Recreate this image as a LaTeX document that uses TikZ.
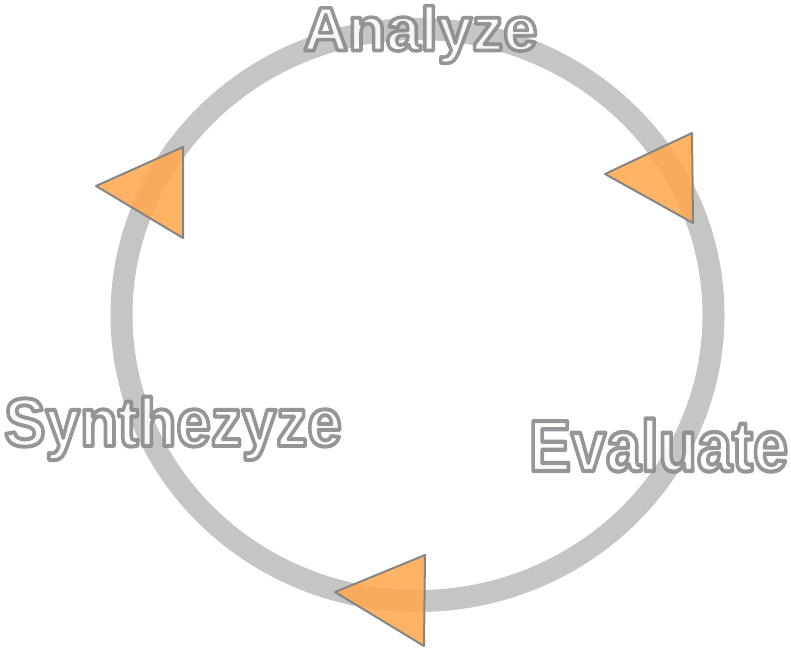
\documentclass[tikz,border=0pt]{standalone}
\usepackage{fontspec}
\setmainfont{Liberation Sans}
\newfontfamily\lblfont{Liberation Sans Bold}
\definecolor{ringgray}{HTML}{C6C5C3}
\definecolor{triorange}{HTML}{FFA850}
\definecolor{triedge}{HTML}{858585}
\definecolor{txtfill}{HTML}{FDFDFC}
% white letters with a grey outline: fill-and-stroke text rendering mode
\newcommand{\outlined}[2]{{\lblfont\fontsize{#1}{#1}\selectfont\textcolor{txtfill}{\special{pdf:literal direct 0.53 0.525 0.54 RG 3.6 w 1 j 2 Tr}#2\special{pdf:literal direct 0 Tr 0 j 0.4 w}}}}
\begin{document}
\begin{tikzpicture}[x=1pt,y=-1pt,
  ring/.style={draw=ringgray, line width=22pt},
  tri/.style={fill=triorange, fill opacity=0.88, draw=triedge, draw opacity=1, line width=2pt, line join=round},
  lbl/.style={anchor=base, inner sep=0pt, outer sep=0pt, text opacity=0.88}]
\useasboundingbox (0,0) rectangle (791,647);
\draw[ring] (417.5,315) ellipse [x radius=296, y radius=286];
\draw[tri] (96,186) -- (183,147) -- (183,238) -- cycle;
\draw[tri] (605,174) -- (692,133) -- (693,223) -- cycle;
\draw[tri] (335,592) -- (425,555) -- (424,646) -- cycle;
\node[lbl] (analyze) at (420.5,50.5) {\outlined{62}{Analyze}};
\node[lbl, yscale=1.15] (evaluate) at (658.5,471) {\outlined{63}{Evaluate}};
\node[lbl, yscale=1.10] (synth) at (173,446) {\outlined{62}{Synthezyze}};
\end{tikzpicture}
\end{document}
